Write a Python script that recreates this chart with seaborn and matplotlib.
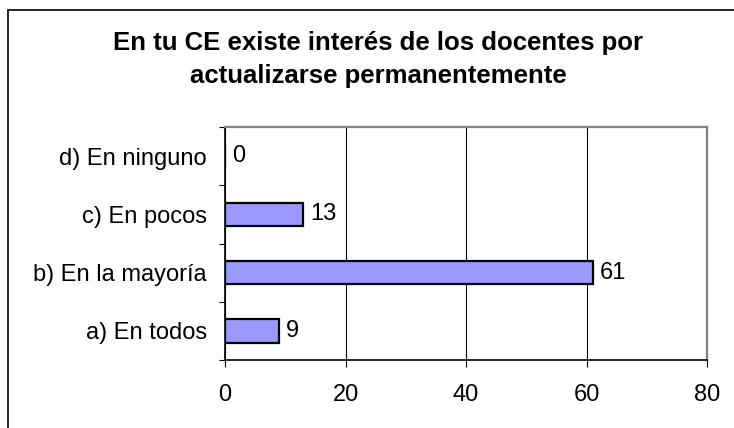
import matplotlib
matplotlib.use("Agg")
import matplotlib.pyplot as plt
import seaborn as sns
import pandas as pd
from matplotlib.patches import Rectangle

# Datos de la encuesta
categorias = ["d) En ninguno", "c) En pocos", "b) En la mayoría", "a) En todos"]
valores = [0, 13, 61, 9]
titulo = ["En tu CE existe interés de los docentes por", "actualizarse permanentemente"]

df = pd.DataFrame({"respuesta": categorias, "cantidad": valores})

sns.set_style("white")
plt.rcParams["font.family"] = ["Liberation Sans", "DejaVu Sans"]
plt.rcParams["text.color"] = "black"
plt.rcParams["xtick.color"] = "black"
plt.rcParams["ytick.color"] = "black"

fig = plt.figure(figsize=(7.34, 4.28), dpi=100)
ax = fig.add_axes([225 / 734, 1 - 360 / 428, (707 - 225) / 734, (360 - 127) / 428])

sns.barplot(data=df, x="cantidad", y="respuesta", orient="h", color="#9999FF",
            saturation=1, edgecolor="black", linewidth=1.6, width=0.4, ax=ax)

ax.set_xlim(0, 80)
ax.set_ylim(3.5, -0.5)
ax.set_xticks([0, 20, 40, 60, 80])
ax.set_xlabel("")
ax.set_ylabel("")

# rejilla vertical
ax.grid(axis="x", color="black", linewidth=0.8)
ax.set_axisbelow(True)

# bordes del area de trazado
for lado in ["top", "right"]:
    ax.spines[lado].set_color("#808080")
    ax.spines[lado].set_linewidth(1.6)
for lado in ["left", "bottom"]:
    ax.spines[lado].set_color("black")
    ax.spines[lado].set_linewidth(1.2)

# marcas del eje y entre categorias
ax.set_yticks([-0.5, 0.5, 1.5, 2.5, 3.5], minor=True)
ax.tick_params(axis="y", which="minor", length=4.5, width=0.8, color="black", left=True)
ax.tick_params(axis="y", which="major", length=0, pad=13, labelsize=17, labelcolor="black")
ax.tick_params(axis="x", which="major", length=5, width=0.8, color="black", bottom=True,
               pad=12, labelsize=17, labelcolor="black")

ax.bar_label(ax.containers[0], padding=5, fontsize=17, color="black")

# titulo en dos lineas
fig.text(378 / 734, 1 - 50 / 428, titulo[0], ha="center", va="baseline",
         fontsize=18.5, fontweight="bold", color="black")
fig.text(378 / 734, 1 - 83 / 428, titulo[1], ha="center", va="baseline",
         fontsize=18.5, fontweight="bold", color="black")

# marco exterior del grafico
fig.patches.append(Rectangle((8 / 734, -0.1), 1.2, 1.1 - 10 / 428, transform=fig.transFigure,
                             fill=False, edgecolor="black", linewidth=1.2))

fig.savefig("out.png", dpi=100)
